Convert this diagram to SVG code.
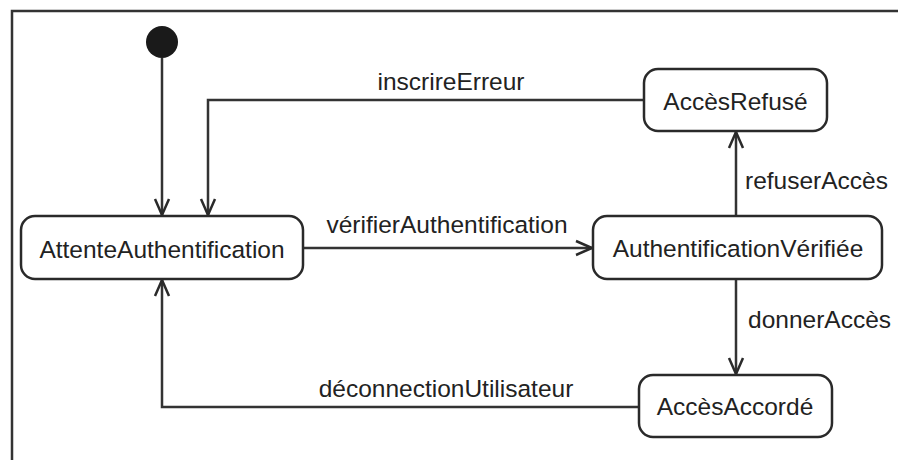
<svg xmlns="http://www.w3.org/2000/svg" width="898" height="460" viewBox="0 0 898 460">
  <style>
    .frame { fill: none; stroke: #333; stroke-width: 2.5; }
    .state rect { fill: #fff; stroke: #2a2a2a; stroke-width: 2.5; }
    .label { font-family: "Liberation Sans", Arial, sans-serif; font-size: 24.5px; fill: #222; }
    .mid { text-anchor: middle; }
    .edge { fill: none; stroke: #333; stroke-width: 2.5; }
  </style>
  <defs>
    <marker id="open-arrow" viewBox="0 0 20 20" refX="18" refY="10" markerWidth="20" markerHeight="20" markerUnits="userSpaceOnUse" orient="auto">
      <path d="M2,3 L18,10 L2,17" fill="none" stroke="#2a2a2a" stroke-width="2.5"/>
    </marker>
  </defs>
  <rect width="898" height="460" fill="#fff"/>

  <!-- diagram frame (open at right and bottom) -->
  <path class="frame" d="M12,460 V11 H898"/>

  <!-- initial pseudo-state -->
  <g id="initial">
    <circle cx="162" cy="42" r="16" fill="#1a1a1a"/>
  </g>

  <g id="connectors">
    <path class="edge" d="M162,58 V215" marker-end="url(#open-arrow)"/>
    <path class="edge" d="M644,100 H208 V215" marker-end="url(#open-arrow)"/>
    <path class="edge" d="M303,248 H592" marker-end="url(#open-arrow)"/>
    <path class="edge" d="M736,216 V132" marker-end="url(#open-arrow)"/>
    <path class="edge" d="M736,279 V374" marker-end="url(#open-arrow)"/>
    <path class="edge" d="M639,407 H162 V280" marker-end="url(#open-arrow)"/>
    <text class="label mid" x="451" y="90">inscrireErreur</text>
    <text class="label mid" x="447" y="233">vérifierAuthentification</text>
    <text class="label" x="745" y="189">refuserAccès</text>
    <text class="label" x="748" y="328">donnerAccès</text>
    <text class="label mid" x="446" y="397">déconnectionUtilisateur</text>
  </g>

  <g id="AttenteAuthentification" class="state">
    <rect x="21" y="216" width="282" height="63" rx="14"/>
    <text class="label mid" x="162" y="258">AttenteAuthentification</text>
  </g>

  <g id="AccesRefuse" class="state">
    <rect x="644" y="69" width="183" height="62" rx="14"/>
    <text class="label mid" x="735.5" y="110">AccèsRefusé</text>
  </g>

  <g id="AuthentificationVerifiee" class="state">
    <rect x="593" y="216" width="289" height="63" rx="14"/>
    <text class="label mid" x="738" y="257">AuthentificationVérifiée</text>
  </g>

  <g id="AccesAccorde" class="state">
    <rect x="639" y="375" width="193" height="62" rx="14"/>
    <text class="label mid" x="735" y="415">AccèsAccordé</text>
  </g>
</svg>
